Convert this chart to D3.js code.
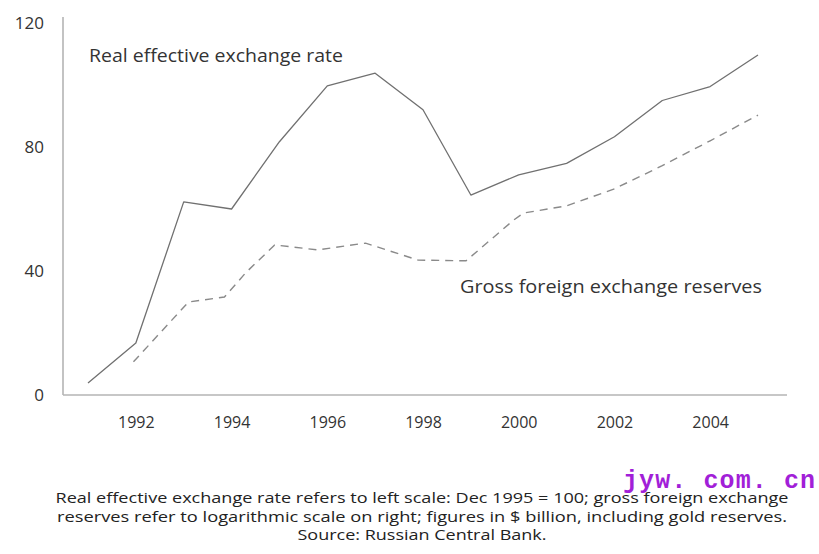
<!DOCTYPE html>
<html>
<head>
<meta charset="utf-8">
<script src="https://cdn.jsdelivr.net/npm/d3@7/dist/d3.min.js"></script>
<style>
  html, body { margin: 0; padding: 0; background: #fff; }
  svg { display: block; }
</style>
</head>
<body>
<svg id="chart" width="819" height="554"></svg>
<script>
// ---- data (dashed series plotted on left-scale units) ----
const years = [1991, 1992, 1993, 1994, 1995, 1996, 1997, 1998, 1999, 2000, 2001, 2002, 2003, 2004, 2005];
const realRate = [3.9, 16.8, 62.3, 60.0, 81.7, 99.7, 103.8, 92.0, 64.5, 71.0, 74.7, 83.3, 95.0, 99.5, 109.7];
const reserveYears = [1991.95, 1993.1, 1993.85, 1994.3, 1994.9, 1995.8, 1996.8, 1997.9, 1998.9, 1999.9, 2000.1, 2001, 2002, 2003, 2004, 2005];
const reserves = [10.7, 30.0, 31.6, 39.5, 48.4, 46.8, 49.0, 43.5, 43.3, 56.5, 58.7, 61.0, 66.5, 74.0, 82.0, 90.3];
const yTicks = [0, 40, 80, 120];
const xTicks = [1992, 1994, 1996, 1998, 2000, 2002, 2004];
const labelRate = "Real effective exchange rate";
const labelReserves = "Gross foreign exchange reserves";
const noteLines = [
  "Real effective exchange rate refers to left scale: Dec 1995 = 100; gross foreign exchange",
  "reserves refer to logarithmic scale on right; figures in $ billion, including gold reserves.",
  "Source: Russian Central Bank."
];
const watermark = "jyw. com. cn";

// ---- layout ----
const svg = d3.select("#chart");
const font = "'Open Sans', sans-serif";
const x = d3.scaleLinear().domain([1991, 2005]).range([88, 758]);
const y = d3.scaleLinear().domain([0, 120]).range([395, 23]);
const axisLeftX = 63, axisRightX = 787, axisTopY = 17;

// axis lines
svg.append("line")
  .attr("x1", axisLeftX).attr("x2", axisLeftX)
  .attr("y1", axisTopY).attr("y2", y(0))
  .attr("stroke", "#b4b4b4").attr("stroke-width", 1.6);
svg.append("line")
  .attr("x1", axisLeftX).attr("x2", axisRightX)
  .attr("y1", y(0)).attr("y2", y(0))
  .attr("stroke", "#b4b4b4").attr("stroke-width", 1.6);

// y axis labels
const gy = svg.append("g")
  .attr("transform", `translate(${axisLeftX},0)`)
  .call(d3.axisLeft(y).tickValues(yTicks).tickSize(0).tickPadding(19));
gy.select(".domain").remove();
gy.selectAll("text")
  .attr("font-family", font).attr("font-size", 17).attr("fill", "#333");

// x axis labels
const gx = svg.append("g")
  .attr("transform", `translate(0,${y(0)})`)
  .call(d3.axisBottom(x).tickValues(xTicks).tickFormat(d3.format("d")).tickSize(0).tickPadding(23));
gx.select(".domain").remove();
gx.selectAll("text")
  .attr("font-family", font).attr("font-size", 16).attr("fill", "#333")
  .attr("dy", "0.62em");

// lines
const rateLine = d3.line().x((d, i) => x(years[i])).y(d => y(d));
svg.append("path")
  .attr("d", rateLine(realRate))
  .attr("fill", "none").attr("stroke", "#707070").attr("stroke-width", 1.3)
  .attr("stroke-linejoin", "round");

const resLine = d3.line().x((d, i) => x(reserveYears[i])).y(d => y(d));
svg.append("path")
  .attr("d", resLine(reserves))
  .attr("fill", "none").attr("stroke", "#8a8a8a").attr("stroke-width", 1.4)
  .attr("stroke-dasharray", "8,6");

// series labels
svg.append("text")
  .attr("x", 89).attr("y", 62)
  .attr("font-family", font).attr("font-size", 18.5).attr("fill", "#333")
  .attr("textLength", 254).attr("lengthAdjust", "spacingAndGlyphs")
  .text(labelRate);
svg.append("text")
  .attr("x", 460).attr("y", 293)
  .attr("font-family", font).attr("font-size", 18.5).attr("fill", "#333")
  .attr("textLength", 302).attr("lengthAdjust", "spacingAndGlyphs")
  .text(labelReserves);

// footnote
const noteY = [503, 521.5, 539.5];
const noteW = [733, 730, 249];
noteLines.forEach((t, i) => {
  svg.append("text")
    .attr("x", 422).attr("y", noteY[i])
    .attr("text-anchor", "middle")
    .attr("font-family", font).attr("font-size", 14.5).attr("fill", "#222")
    .attr("textLength", noteW[i]).attr("lengthAdjust", "spacingAndGlyphs")
    .text(t);
});

// watermark
svg.append("text")
  .attr("x", 623).attr("y", 488)
  .attr("font-family", "'Liberation Mono', monospace").attr("font-weight", "bold")
  .attr("font-size", 25).attr("fill", "#a21fd8")
  .attr("textLength", 192).attr("lengthAdjust", "spacing")
  .text(watermark);
</script>
</body>
</html>
